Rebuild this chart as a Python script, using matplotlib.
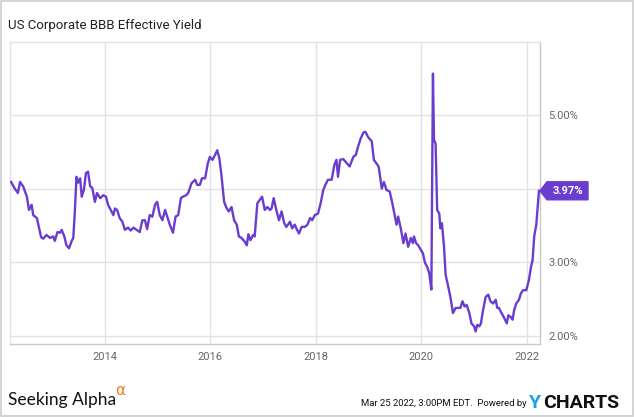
import matplotlib
matplotlib.use("Agg")
import matplotlib.pyplot as plt
from matplotlib.patches import Polygon, Rectangle

# US Corporate BBB effective yield (decimal year, %)
years = [2012.22, 2012.29, 2012.35, 2012.39, 2012.45, 2012.52, 2012.56, 2012.61, 2012.64, 2012.71,
         2012.75, 2012.79, 2012.83, 2012.89, 2012.96, 2013.02, 2013.05, 2013.10, 2013.15, 2013.18,
         2013.23, 2013.27, 2013.32, 2013.37, 2013.40, 2013.43, 2013.46, 2013.49, 2013.53, 2013.56,
         2013.60, 2013.64, 2013.68, 2013.72, 2013.76, 2013.81, 2013.85, 2013.91, 2013.97, 2014.02,
         2014.06, 2014.11, 2014.16, 2014.19, 2014.23, 2014.28, 2014.33, 2014.38, 2014.44, 2014.49,
         2014.54, 2014.60, 2014.66, 2014.71, 2014.76, 2014.80, 2014.85, 2014.90, 2014.95, 2014.99,
         2015.04, 2015.09, 2015.14, 2015.18, 2015.23, 2015.29, 2015.34, 2015.39, 2015.44, 2015.48,
         2015.54, 2015.58, 2015.64, 2015.71, 2015.75, 2015.80, 2015.84, 2015.90, 2015.95, 2015.99,
         2016.04, 2016.09, 2016.13, 2016.17, 2016.21, 2016.26, 2016.31, 2016.35, 2016.40, 2016.45,
         2016.50, 2016.54, 2016.59, 2016.65, 2016.69, 2016.72, 2016.76, 2016.81, 2016.84, 2016.89,
         2016.94, 2016.98, 2017.03, 2017.08, 2017.13, 2017.16, 2017.20, 2017.25, 2017.30, 2017.35,
         2017.40, 2017.44, 2017.51, 2017.55, 2017.60, 2017.63, 2017.68, 2017.73, 2017.79, 2017.84,
         2017.89, 2017.93, 2017.98, 2018.04, 2018.09, 2018.14, 2018.18, 2018.23, 2018.30, 2018.35,
         2018.39, 2018.42, 2018.46, 2018.52, 2018.58, 2018.64, 2018.71, 2018.76, 2018.80, 2018.85,
         2018.90, 2018.94, 2018.99, 2019.06, 2019.10, 2019.15, 2019.19, 2019.25, 2019.29, 2019.34,
         2019.40, 2019.45, 2019.50, 2019.53, 2019.56, 2019.61, 2019.66, 2019.70, 2019.75, 2019.80,
         2019.84, 2019.86, 2019.90, 2019.94, 2019.99, 2020.03, 2020.07, 2020.11, 2020.15, 2020.19,
         2020.22, 2020.24, 2020.27, 2020.30, 2020.34, 2020.36, 2020.39, 2020.43, 2020.46, 2020.51,
         2020.55, 2020.60, 2020.65, 2020.70, 2020.74, 2020.78, 2020.82, 2020.86, 2020.91, 2020.95,
         2021.00, 2021.03, 2021.06, 2021.10, 2021.13, 2021.17, 2021.22, 2021.27, 2021.31, 2021.36,
         2021.41, 2021.44, 2021.47, 2021.52, 2021.56, 2021.62, 2021.65, 2021.69, 2021.73, 2021.76,
         2021.80, 2021.85, 2021.89, 2021.93, 2021.99, 2022.04, 2022.08, 2022.11, 2022.14, 2022.18,
         2022.23]
yields = [4.09, 4.00, 3.94, 4.09, 4.03, 3.89, 3.71, 3.78, 3.64, 3.60,
          3.47, 3.34, 3.32, 3.37, 3.33, 3.35, 3.29, 3.41, 3.40, 3.44,
          3.35, 3.23, 3.19, 3.29, 3.33, 3.69, 4.16, 4.08, 4.14, 3.89,
          3.98, 4.21, 4.23, 4.03, 4.01, 3.82, 3.94, 3.87, 3.91, 3.89,
          3.78, 3.71, 3.64, 3.73, 3.71, 3.60, 3.55, 3.44, 3.47, 3.43,
          3.47, 3.44, 3.41, 3.57, 3.57, 3.45, 3.64, 3.62, 3.78, 3.82,
          3.64, 3.57, 3.71, 3.62, 3.51, 3.40, 3.62, 3.64, 3.87, 3.89,
          3.91, 3.94, 4.07, 4.12, 4.05, 4.05, 4.14, 4.14, 4.34, 4.43,
          4.39, 4.46, 4.52, 4.41, 4.18, 3.82, 3.73, 3.69, 3.75, 3.57,
          3.51, 3.35, 3.33, 3.28, 3.23, 3.38, 3.30, 3.37, 3.35, 3.80,
          3.85, 3.89, 3.71, 3.75, 3.71, 3.73, 3.87, 3.71, 3.57, 3.69,
          3.53, 3.48, 3.55, 3.46, 3.51, 3.46, 3.39, 3.48, 3.48, 3.51,
          3.60, 3.57, 3.64, 3.66, 3.80, 3.98, 4.05, 4.12, 4.12, 4.32,
          4.39, 4.16, 4.39, 4.40, 4.35, 4.30, 4.43, 4.46, 4.57, 4.68,
          4.76, 4.77, 4.70, 4.64, 4.39, 4.34, 4.30, 4.00, 4.09, 3.98,
          3.96, 3.80, 3.62, 3.51, 3.62, 3.46, 3.26, 3.39, 3.21, 3.33,
          3.26, 3.35, 3.26, 3.23, 3.17, 3.12, 2.99, 2.94, 2.85, 2.63,
          5.56, 4.66, 4.61, 3.71, 3.66, 3.46, 3.53, 3.21, 2.83, 2.67,
          2.53, 2.31, 2.38, 2.38, 2.38, 2.47, 2.40, 2.42, 2.31, 2.17,
          2.13, 2.06, 2.15, 2.13, 2.17, 2.35, 2.53, 2.56, 2.47, 2.44,
          2.49, 2.38, 2.38, 2.31, 2.26, 2.17, 2.28, 2.26, 2.22, 2.35,
          2.44, 2.49, 2.58, 2.62, 2.62, 2.76, 2.94, 3.03, 3.35, 3.51,
          3.97]

year_ticks = [2014, 2016, 2018, 2020, 2022]
yield_ticks = [2.0, 3.0, 4.0, 5.0]
last_label = "3.97%"

line_color = "#6a3cd0"
plt.rcParams["font.family"] = ["Roboto", "DejaVu Sans"]

fig = plt.figure(figsize=(6.35, 4.17), dpi=100)
ax = fig.add_axes([10 / 635, 73 / 417, 530 / 635, 302 / 417])

ax.plot(years, yields, color=line_color, lw=1.7, solid_joinstyle="round", zorder=3)

ax.set_xlim(2012.2, 2022.25)
ax.set_ylim(1.89, 5.99)
ax.set_xticks(year_ticks)
ax.set_xticklabels([str(y) for y in year_ticks])
ax.set_yticks(yield_ticks)
ax.set_yticklabels(["%.2f%%" % v for v in yield_ticks])
ax.yaxis.tick_right()
ax.tick_params(axis="both", length=0, labelsize=8, labelcolor="#666666")
ax.tick_params(axis="y", pad=6)
ax.tick_params(axis="x", pad=6)
for lab in ax.get_yticklabels():
    lab.set_horizontalalignment("left")

ax.grid(True, color="#e2e2e2", lw=1)
ax.set_axisbelow(True)
for side in ["left", "top"]:
    ax.spines[side].set_color("#e2e2e2")
for side in ["right", "bottom"]:
    ax.spines[side].set_color("#c8c8c8")
for sp in ax.spines.values():
    sp.set_linewidth(1)

fig.text(8 / 635, 1 - 26 / 417, "US Corporate BBB Effective Yield", fontsize=9.5,
         color="#222222", va="center", ha="left")

# last value flag
fig.canvas.draw()
tip = ax.transData.transform((ax.get_xlim()[1], yields[-1]))
tx, ty = tip
h = 9
flag = Polygon([(tx, ty), (tx + 7, ty + h), (tx + 48, ty + h), (tx + 48, ty - h), (tx + 7, ty - h)],
               closed=True, facecolor=line_color, edgecolor=line_color, transform=None, zorder=5)
fig.patches.append(flag)
fig.text((tx + 28) / 635, ty / 417, last_label, color="white", fontsize=8, fontweight="bold",
         ha="center", va="center", zorder=6)

# footer
fig.text(8 / 635, 12 / 417, "Seeking Alpha", fontsize=12.5, color="#111111", family=["Lato", "DejaVu Sans"],
         va="baseline", ha="left")
fig.text(115 / 635, 22 / 417, "\u03b1", fontsize=11, color="#f07d1a", family=["DejaVu Sans"],
         va="baseline", ha="left")
fig.text(527 / 635, 14 / 417, "Mar 25 2022, 3:00PM EDT.  Powered by", fontsize=6.8, color="#111111",
         va="center", ha="right")
fig.text(529 / 635, 14 / 417, "Y", fontsize=14, color="#1aa0e6", fontweight="bold", va="center", ha="left")
fig.text(543 / 635, 14 / 417, "CHARTS", fontsize=14, color="#111111", fontweight="bold",
         va="center", ha="left")

fig.patches.append(Rectangle((0.001, 0.002), 0.996, 0.996, transform=fig.transFigure, fill=False,
                             edgecolor="#cccccc", lw=1.2))

fig.savefig("out.png", dpi=100)
